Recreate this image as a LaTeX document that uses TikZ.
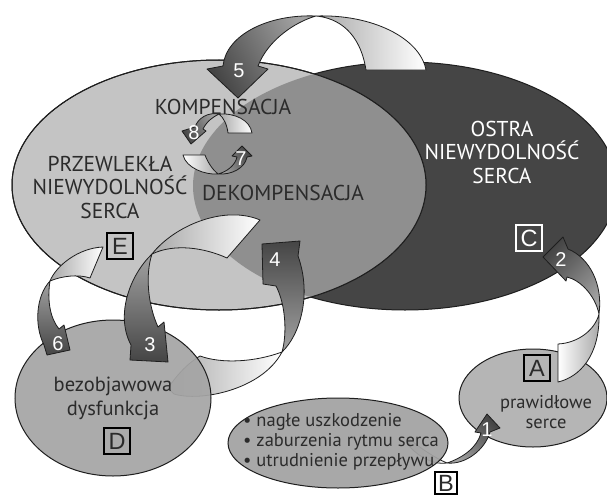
\documentclass[tikz,border=0pt]{standalone}
\usepackage{fontspec}
\setmainfont{PT Sans}
\newfontfamily\numfont{Liberation Sans}
\definecolor{lightE}{HTML}{C4C4C4}
\definecolor{midE}{HTML}{8F8F8F}
\definecolor{darkE}{HTML}{454545}
\definecolor{smallD}{HTML}{A5A5A5}
\definecolor{smallB}{HTML}{A2A2A2}
\definecolor{smallA}{HTML}{B5B5B5}
\definecolor{txt}{HTML}{2B2B2B}
\definecolor{outl}{HTML}{1E1E1E}
\definecolor{lgA}{HTML}{A8A8A8}
\definecolor{dkA}{HTML}{454545}
\definecolor{dkB}{HTML}{A2A2A2}
\tikzset{
  ell/.style={draw=outl, line width=1pt},
  lobelight/.style={draw=outl, line width=0.8pt, line join=round, top color=white, bottom color=lgA, shading angle=#1},
  lobelight/.default=270,
  lobedark/.style={draw=outl, line width=0.8pt, line join=round, top color=dkA, bottom color=dkB, shading angle=#1},
  lobedark/.default=0,
  numlbl/.style={text=white, font=\numfont\fontsize{20}{20}\selectfont, inner sep=0pt},
  letterbox/.style={draw=black, line width=1.8pt, minimum size=26pt, inner sep=0pt, text=txt, font=\numfont\fontsize{23.5}{23.5}\selectfont},
  captxt/.style={text=txt, align=center, inner sep=0pt, font=\fontsize{21.5}{23.5}\selectfont},
  lowtxt/.style={text=txt, align=center, inner sep=0pt, font=\fontsize{20.5}{24}\selectfont},
  smalltxt/.style={text=txt, inner sep=0pt, font=\fontsize{18.5}{20}\selectfont},
}
\begin{document}
\begin{tikzpicture}[x=1pt,y=-1pt]
\useasboundingbox (0,0) rectangle (607,495);
\fill[white] (0,0) rectangle (607,495);
\begin{scope}
\clip (0,0) rectangle (607,495);
% big ellipses
\draw[ell, fill=darkE] (405,186) ellipse [x radius=212pt, y radius=124pt];
\draw[ell, fill=lightE] (219,185) ellipse [x radius=207pt, y radius=125pt];
\begin{scope}
  \clip (219,185) ellipse [x radius=207pt, y radius=125pt];
  \fill[midE] (405,186) ellipse [x radius=212pt, y radius=124pt];
\end{scope}
\draw[ell] (219,185) ellipse [x radius=207pt, y radius=125pt];

% arrow 4 tail (behind bezobjawowa)
\path[lobelight=270] (282,352) .. controls (255,362) and (222,364) .. (200,356) .. controls (185,365) and (175,378) .. (168,388) -- (174,394) .. controls (200,402) and (262,390) .. (282,352) -- cycle;
% bezobjawowa ellipse
\draw[ell, fill=smallD, fill opacity=0.93] (113,398) ellipse [x radius=98pt, y radius=78pt];
% arrow 4 head
\path[lobedark=0] (282,352) .. controls (300,335) and (312,295) .. (298,256) -- (300,241) -- (262,244) -- (263,284) -- (276,286) .. controls (286,305) and (287,335) .. (282,352) -- cycle;
% arrow 3
\path[lobelight=270] (260,220) -- (227,258) .. controls (205,248) and (175,243) .. (152,254) .. controls (175,225) and (225,205) .. (260,220) -- cycle;
\path[lobedark=180] (152,254) .. controls (130,275) and (115,315) .. (131,345) -- (130,360) -- (168,362) -- (164,322) -- (158,327) .. controls (148,305) and (145,275) .. (152,254) -- cycle;
% arrow 6
\path[lobelight=270] (103,247) -- (90,278) .. controls (78,274) and (62,276) .. (50,281) .. controls (56,266) and (78,248) .. (103,247) -- cycle;
\path[lobedark=180] (50,281) .. controls (36,296) and (34,325) .. (44,345) -- (47,355) -- (70,350) -- (64,325) -- (59,329) .. controls (50,318) and (47,300) .. (50,281) -- cycle;
% arrow 5
\path[lobelight=270] (366,70) -- (426,70) .. controls (420,38) and (372,14) .. (316,16) .. controls (338,18) and (360,32) .. (366,70) -- cycle;
\path[lobedark=120] (316,16) .. controls (268,14) and (226,35) .. (223,66) -- (207,69) -- (238,98) -- (268,69) -- (258,66) .. controls (268,40) and (295,22) .. (316,16) -- cycle;
% arrow 8
\path[lobelight=270] (228,133) -- (252,133) .. controls (250,120) and (235,113) .. (219,114) .. controls (224,118) and (227,125) .. (228,133) -- cycle;
\path[lobedark=120] (219,114) .. controls (208,112) and (198,118) .. (195,127) -- (182,131) -- (191,144) -- (206,131) -- (203,129) .. controls (207,121) and (213,117) .. (219,114) -- cycle;
% arrow 7
\path[lobelight=90] (205,155) -- (183,155) .. controls (186,168) and (205,175) .. (218,174) .. controls (213,170) and (208,163) .. (205,155) -- cycle;
\path[lobedark=300] (218,174) .. controls (232,175) and (245,168) .. (247,157) -- (252,156) -- (242,146) -- (232,156) -- (237,157) .. controls (235,166) and (226,172) .. (218,174) -- cycle;
% prawidlowe ellipse
\draw[ell, fill=smallA] (533,398) ellipse [x radius=74pt, y radius=49pt];
% arrow 2
\path[lobelight=90] (558,344) -- (558,382) .. controls (580,377) and (600,355) .. (599,314) .. controls (595,330) and (578,343) .. (558,344) -- cycle;
\path[lobedark=45] (599,314) .. controls (603,285) and (590,258) .. (568,249) -- (563,237) -- (543,257) -- (566,281) -- (567,277) .. controls (580,280) and (595,295) .. (599,314) -- cycle;
% arrow 1 tail
\path[lobelight=270] (407,437) .. controls (420,448) and (435,458) .. (447,463) .. controls (435,465) and (420,458) .. (410,447) -- cycle;
% nagle ellipse
\draw[ell, fill=smallB, fill opacity=0.93] (338,443) ellipse [x radius=110pt, y radius=45pt];
% arrow 1 head
\path[lobedark=315] (447,463) .. controls (465,465) and (485,450) .. (490,432) -- (500,428) -- (487,414) -- (475,432) -- (481,433) .. controls (477,448) and (462,458) .. (447,463) -- cycle;
\end{scope}

% texts
\node[captxt] (kompens) at (223,107) {KOMPENSACJA};
\node[captxt] (dekompens) at (283,193) {DEKOMPENSACJA};
\node[captxt] (przew) at (110,187) {PRZEWLEKŁA\\NIEWYDOLNOŚĆ\\SERCA};
\node[captxt, text=white] (ostra) at (502,152) {OSTRA\\NIEWYDOLNOŚĆ\\SERCA};
\node[lowtxt] (bezob) at (113,398) {bezobjawowa\\dysfunkcja};
\node[smalltxt, align=center] (prawid) at (546,412) {prawidłowe\\serce};
\node[smalltxt, align=left, anchor=west] (lista) at (243,442) {• nagłe uszkodzenie\\• zaburzenia rytmu serca\\• utrudnienie przepływu};

% numbers
\node[numlbl] (n5) at (239,71) {5};
\node[numlbl] (n8) at (194,133) {8};
\node[numlbl] (n7) at (241,159) {7};
\node[numlbl] (n6) at (58,344) {6};
\node[numlbl] (n3) at (150,345) {3};
\node[numlbl] (n4) at (275,260) {4};
\node[numlbl] (n2) at (561,260) {2};
\node[numlbl] (n1) at (487,430) {1};

% letter boxes
\node[letterbox] (bA) at (537,368) {A};
\node[letterbox, fill=white, minimum size=22pt] (bB) at (446,483) {B};
\node[letterbox, draw=white, text=white] (bC) at (529,238) {C};
\node[letterbox] (bD) at (117,441) {D};
\node[letterbox] (bE) at (120,246) {E};
\end{tikzpicture}
\end{document}
